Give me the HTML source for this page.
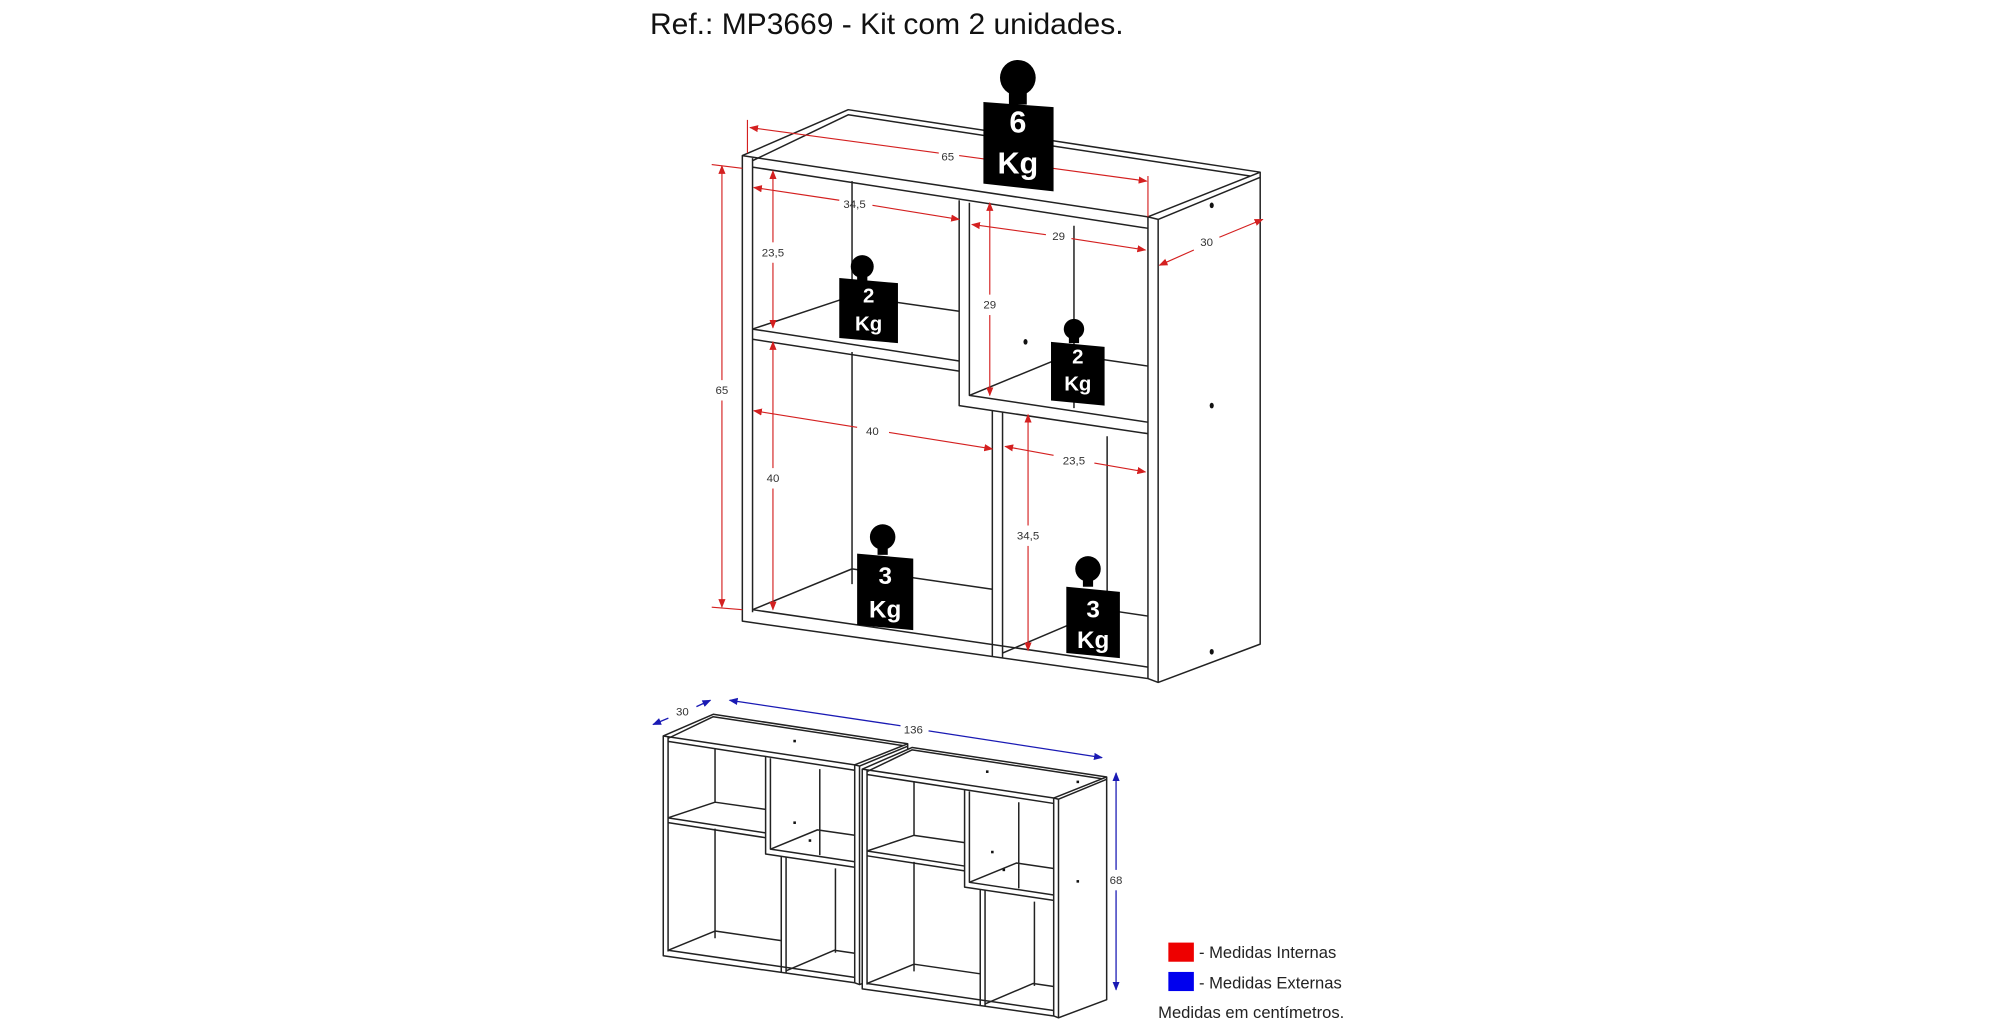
<!DOCTYPE html>
<html><head><meta charset="utf-8"><style>
html,body{margin:0;padding:0;background:#fff;}
svg{display:block;}
text{font-family:"Liberation Sans",sans-serif;}
</style></head><body>
<svg width="2000" height="1028" viewBox="0 0 2000 1028" xmlns="http://www.w3.org/2000/svg">
<defs>
<marker id="ar" viewBox="0 0 10 10" refX="9" refY="5" markerWidth="7" markerHeight="7" orient="auto-start-reverse" markerUnits="userSpaceOnUse"><path d="M0,1 L10,5 L0,9 z" fill="#d42020"/></marker>
<marker id="ab" viewBox="0 0 10 10" refX="9" refY="5" markerWidth="7" markerHeight="7" orient="auto-start-reverse" markerUnits="userSpaceOnUse"><path d="M0,1 L10,5 L0,9 z" fill="#1a1ab4"/></marker>
<g id="cab" fill="none" stroke="#222" stroke-width="1.5" stroke-linejoin="round">
 <path d="M0,0 L83,-36 L406,13 L406,383 L326,413 L318,410 L0,365 Z" fill="#fff" vector-effect="non-scaling-stroke"/>
 <path d="M0,0 L318,48 L406,13" vector-effect="non-scaling-stroke"/>
 <path d="M8,4 L83,-32 L398,16" vector-effect="non-scaling-stroke"/>
 <path d="M318,48 L326,50 L406,17" vector-effect="non-scaling-stroke"/>
 <path d="M318,48 L318,410 M326,50 L326,413" vector-effect="non-scaling-stroke"/>
 <path d="M8,2 L8,358 M8,9 L318,57" vector-effect="non-scaling-stroke"/>
 <path d="M8,356 L318,401" vector-effect="non-scaling-stroke"/>
 <path d="M170,35 L170,196 L318,218 M178,37 L178,188 L318,209" vector-effect="non-scaling-stroke"/>
 <path d="M8,136 L170,161 M8,144 L170,169" vector-effect="non-scaling-stroke"/>
 <path d="M196,200 L196,393 M204,201 L204,394" vector-effect="non-scaling-stroke"/>
 <path d="M86,20 L86,110 M8,136 L86,110 L170,122" vector-effect="non-scaling-stroke"/>
 <path d="M86,154 L86,336 M8,356 L86,324 L196,340" vector-effect="non-scaling-stroke"/>
 <path d="M260,55 L260,198 M178,188 L256,156 L318,165" vector-effect="non-scaling-stroke"/>
 <path d="M286,220 L286,360 M204,390 L284,356 L318,361" vector-effect="non-scaling-stroke"/>
</g>
</defs>
<text x="650" y="34" font-size="30" fill="#111">Ref.: MP3669 - Kit com 2 unidades.</text>
<g transform="scale(1.2755)">
 <use href="#cab" transform="translate(582,122)"/>
 <ellipse cx="950" cy="161" rx="1.6" ry="2.2" fill="#111"/>
 <ellipse cx="950" cy="318" rx="1.6" ry="2.2" fill="#111"/>
 <ellipse cx="950" cy="511" rx="1.6" ry="2.2" fill="#111"/>
 <ellipse cx="804" cy="268" rx="1.6" ry="2.2" fill="#111"/>
 <g stroke="#d42020" stroke-width="0.9" fill="none">
  <line x1="586" y1="94" x2="586" y2="120"/><line x1="900" y1="138" x2="900" y2="170"/>
  <line x1="588" y1="100" x2="736" y2="120" marker-start="url(#ar)"/><line x1="752" y1="122" x2="899" y2="142" marker-end="url(#ar)"/>
  <line x1="558" y1="129" x2="582" y2="132"/><line x1="558" y1="476" x2="582" y2="478"/>
  <line x1="566" y1="130" x2="566" y2="298" marker-start="url(#ar)"/><line x1="566" y1="314" x2="566" y2="476" marker-end="url(#ar)"/>
  <line x1="591" y1="147" x2="658" y2="157" marker-start="url(#ar)"/><line x1="684" y1="161" x2="752" y2="172" marker-end="url(#ar)"/>
  <line x1="606" y1="134" x2="606" y2="190" marker-start="url(#ar)"/><line x1="606" y1="206" x2="606" y2="257" marker-end="url(#ar)"/>
  <line x1="762" y1="176" x2="820" y2="184" marker-start="url(#ar)"/><line x1="840" y1="187" x2="898" y2="196" marker-end="url(#ar)"/>
  <line x1="776" y1="159" x2="776" y2="231" marker-start="url(#ar)"/><line x1="776" y1="247" x2="776" y2="310" marker-end="url(#ar)"/>
  <line x1="909" y1="208" x2="936" y2="196" marker-start="url(#ar)"/><line x1="956" y1="186" x2="990" y2="172" marker-end="url(#ar)"/>
  <line x1="591" y1="322" x2="672" y2="335" marker-start="url(#ar)"/><line x1="697" y1="339" x2="778" y2="352" marker-end="url(#ar)"/>
  <line x1="606" y1="268" x2="606" y2="367" marker-start="url(#ar)"/><line x1="606" y1="383" x2="606" y2="478" marker-end="url(#ar)"/>
  <line x1="788" y1="350" x2="826" y2="357" marker-start="url(#ar)"/><line x1="858" y1="363" x2="898" y2="370" marker-end="url(#ar)"/>
  <line x1="806" y1="325" x2="806" y2="412" marker-start="url(#ar)"/><line x1="806" y1="428" x2="806" y2="510" marker-end="url(#ar)"/>
 </g>
 <g font-size="9" fill="#333" text-anchor="middle">
  <text x="743" y="126">65</text><text x="566" y="309">65</text><text x="670" y="163">34,5</text>
  <text x="606" y="201">23,5</text><text x="830" y="188">29</text><text x="776" y="242">29</text>
  <text x="946" y="193">30</text><text x="684" y="341">40</text><text x="606" y="378">40</text>
  <text x="842" y="364">23,5</text><text x="806" y="423">34,5</text>
 </g>
 <g fill="#000">
  <circle cx="798" cy="61" r="14"/><rect x="791" y="70" width="14" height="12"/><path d="M771,80 L826,84 L826,150 L771,144 Z"/>
  <circle cx="676" cy="209" r="9"/><rect x="672" y="214" width="8" height="6"/><path d="M658,218 L704,222 L704,269 L658,265 Z"/>
  <circle cx="842" cy="258" r="8"/><rect x="838" y="263" width="8" height="6"/><path d="M824,268 L866,272 L866,318 L824,314 Z"/>
  <circle cx="692" cy="421" r="10"/><rect x="688" y="428" width="8" height="7"/><path d="M672,434 L716,438 L716,494 L672,490 Z"/>
  <circle cx="853" cy="446" r="10"/><rect x="849" y="453" width="8" height="7"/><path d="M836,460 L878,464 L878,516 L836,512 Z"/>
 </g>
 <g fill="#fff" font-weight="bold" text-anchor="middle">
  <text x="798" y="104" font-size="24">6</text><text x="798" y="136" font-size="24">Kg</text>
  <text x="681" y="237" font-size="16">2</text><text x="681" y="259" font-size="16">Kg</text>
  <text x="845" y="285" font-size="16">2</text><text x="845" y="306" font-size="16">Kg</text>
  <text x="694" y="458" font-size="19">3</text><text x="694" y="484" font-size="19">Kg</text>
  <text x="857" y="484" font-size="19">3</text><text x="857" y="508" font-size="19">Kg</text>
 </g>
 <use href="#cab" transform="translate(520,577) scale(0.472)"/>
 <use href="#cab" transform="translate(676,603) scale(0.472)"/>
 <g fill="#111">
  <rect x="622" y="580" width="2" height="2"/><rect x="773" y="604" width="2" height="2"/>
  <rect x="622" y="644" width="2" height="2"/><rect x="634" y="658" width="2" height="2"/>
  <rect x="777" y="667" width="2" height="2"/><rect x="786" y="681" width="2" height="2"/>
  <rect x="844" y="612" width="2" height="2"/><rect x="844" y="690" width="2" height="2"/>
 </g>
 <g stroke="#1a1ab4" stroke-width="1" fill="none">
  <line x1="524" y1="563" x2="512" y2="568" marker-end="url(#ab)"/><line x1="546" y1="554" x2="557" y2="549" marker-end="url(#ab)"/>
  <line x1="706" y1="569" x2="572" y2="549" marker-end="url(#ab)"/><line x1="728" y1="573" x2="864" y2="594" marker-end="url(#ab)"/>
  <line x1="875" y1="682" x2="875" y2="606" marker-end="url(#ab)"/><line x1="875" y1="698" x2="875" y2="776" marker-end="url(#ab)"/>
 </g>
 <g font-size="9" fill="#333" text-anchor="middle">
  <text x="535" y="561">30</text><text x="716" y="575">136</text><text x="875" y="693">68</text>
 </g>
 <rect x="916" y="739" width="20" height="15" fill="#ee0000"/>
 <rect x="916" y="762" width="20" height="15" fill="#0000ee"/>
 <g font-size="13" fill="#222">
  <text x="940" y="751">- Medidas Internas</text>
  <text x="940" y="775">- Medidas Externas</text>
  <text x="908" y="798">Medidas em centímetros.</text>
 </g>
</g>
</svg>
</body></html>
